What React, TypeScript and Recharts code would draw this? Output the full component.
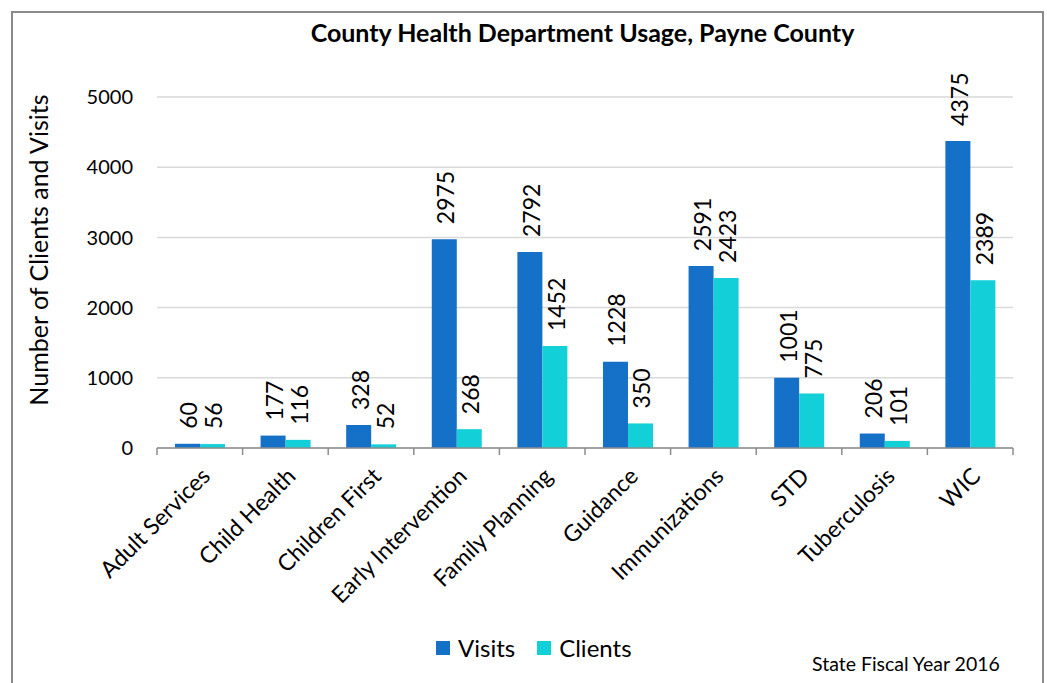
import React from "react";
import { BarChart, Bar, XAxis, YAxis, CartesianGrid, LabelList, Label } from "recharts";

const categories = [
  "Adult Services", "Child Health", "Children First", "Early Intervention", "Family Planning",
  "Guidance", "Immunizations", "STD", "Tuberculosis", "WIC",
];
const visits = [60, 177, 328, 2975, 2792, 1228, 2591, 1001, 206, 4375];
const clients = [56, 116, 52, 268, 1452, 350, 2423, 775, 101, 2389];
const yTicks = [0, 1000, 2000, 3000, 4000, 5000];

const VISITS_COLOR = "#1570c8";
const CLIENTS_COLOR = "#12cfd8";
const FONT = "Lato, 'Open Sans', sans-serif";

const data = categories.map((c, i) => ({ name: c, Visits: visits[i], Clients: clients[i] }));

function CategoryTick(props: any) {
  const { x, y, payload, index } = props;
  const half = payload?.offset || 42.8;
  const last = index === categories.length - 1;
  const tx = x + 6;
  const ty = y + 24;
  return (
    <g>
      <line x1={x - half} x2={x - half} y1={y} y2={y + 7} stroke="#8c8c8c" strokeWidth={1.5} />
      {last && <line x1={x + half} x2={x + half} y1={y} y2={y + 7} stroke="#8c8c8c" strokeWidth={1.5} />}
      <text
        x={tx}
        y={ty}
        textAnchor="end"
        dy="0.35em"
        transform={`rotate(-45 ${tx} ${ty})`}
        fontSize={23}
        fontFamily={FONT}
        fill="#000"
      >
        {payload.value}
      </text>
    </g>
  );
}

function ValueLabel(props: any) {
  const { x, y, width, value } = props;
  const cx = x + width / 2 + 1;
  const cy = y - 15;
  return (
    <text
      x={cx}
      y={cy}
      textAnchor="start"
      dominantBaseline="central"
      transform={`rotate(-90 ${cx} ${cy})`}
      fontSize={23}
      fontFamily={FONT}
      fill="#000"
    >
      {value}
    </text>
  );
}

export default function App() {
  return (
    <div style={{ position: "fixed", left: 0, top: 0, width: 1047, height: 683, overflow: "hidden", background: "#fff", fontFamily: FONT }}>
      <div style={{ position: "absolute", left: 11, top: 11, width: 1029, height: 700, border: "2px solid #8a8a8a" }} />
      <div style={{ position: "absolute", left: 0, width: 1047, top: 17, paddingLeft: 118, boxSizing: "border-box", textAlign: "center", fontWeight: 700, fontSize: 25, color: "#000" }}>
        County Health Department Usage, Payne County
      </div>
      <BarChart
        width={1047}
        height={683}
        data={data}
        margin={{ top: 97, right: 34, left: 20, bottom: 35 }}
        barCategoryGap="21%"
        barGap={0}
      >
        <CartesianGrid vertical={false} stroke="#d9d9d9" strokeWidth={1.5} />
        <XAxis
          dataKey="name"
          interval={0}
          height={200}
          tickLine={false}
          tickSize={0}
          tickMargin={0}
          axisLine={{ stroke: "#8c8c8c", strokeWidth: 1.5 }}
          tick={<CategoryTick />}
        />
        <YAxis
          width={137}
          domain={[0, 5000]}
          ticks={yTicks}
          tickLine={false}
          axisLine={false}
          tickSize={0}
          tickMargin={24}
          tick={{ fontSize: 20, fill: "#000", fontFamily: FONT }}
        >
          <Label
            content={() => (
              <text
                x={38}
                y={250}
                textAnchor="middle"
                dominantBaseline="central"
                transform="rotate(-90 38 250)"
                fontSize={25}
                fontFamily={FONT}
                fill="#000"
              >
                Number of Clients and Visits
              </text>
            )}
          />
        </YAxis>
        <Bar dataKey="Visits" fill={VISITS_COLOR} isAnimationActive={false}>
          <LabelList dataKey="Visits" content={<ValueLabel />} />
        </Bar>
        <Bar dataKey="Clients" fill={CLIENTS_COLOR} isAnimationActive={false}>
          <LabelList dataKey="Clients" content={<ValueLabel />} />
        </Bar>
      </BarChart>
      <div style={{ position: "absolute", top: 633, left: 436, display: "flex", alignItems: "center", fontSize: 24, color: "#000" }}>
        <span style={{ display: "inline-block", width: 14, height: 14, background: VISITS_COLOR, marginRight: 8 }} />
        <span style={{ marginRight: 22 }}>Visits</span>
        <span style={{ display: "inline-block", width: 14, height: 14, background: CLIENTS_COLOR, marginRight: 8 }} />
        <span>Clients</span>
      </div>
      <div style={{ position: "absolute", top: 652, left: 812, fontSize: 19.5, color: "#000" }}>State Fiscal Year 2016</div>
    </div>
  );
}
